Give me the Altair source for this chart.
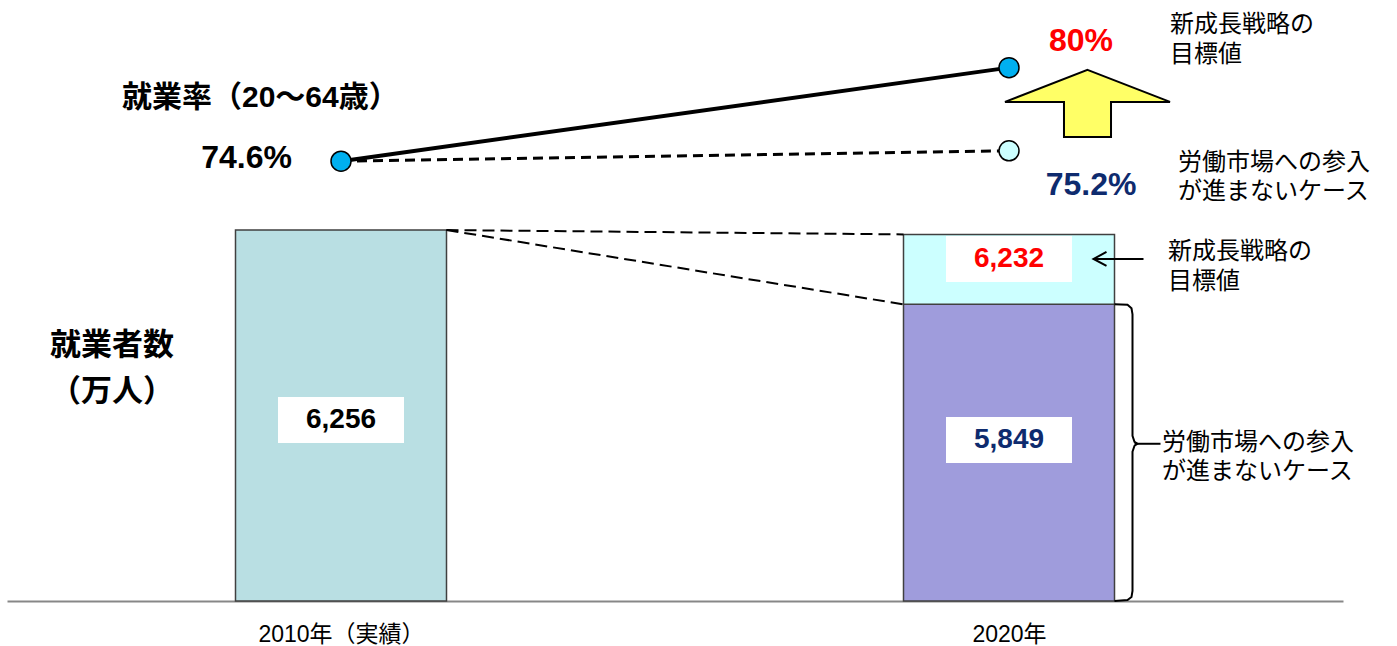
import altair as alt
import pandas as pd

# ---- values ----
YEARS = [2010, 2020]
YEAR_LABELS = ["2010年（実績）", "2020年"]

EMPLOYED_2010 = 6256           # 就業者数（万人）
EMPLOYED_2020_TARGET = 6232    # 新成長戦略の目標値
EMPLOYED_2020_STALLED = 5849   # 労働市場への参入が進まないケース

RATE_2010 = 74.6               # 就業率（20～64歳）, %
RATE_2020_TARGET = 80.0
RATE_2020_STALLED = 75.2

RATE_TITLE = ["就業率（20～64歳）"]
COUNT_TITLE = ["就業者数", "（万人）"]
TARGET_NOTE = ["新成長戦略の", "目標値"]
STALLED_NOTE = ["労働市場への参入", "が進まないケース"]

# ---- layout ----
PLOT_W, PLOT_H = 1336, 591
X_DOMAIN = [2005, 2025]
BAR_DOMAIN = [4224, 7461.3]      # employment bars sit on a truncated axis
RATE_DOMAIN = [49.205, 83.328]
BAR_PX = 211

FONT = "Liberation Sans, Noto Sans CJK JP"
NAVY = "#0E2B6E"
RED = "#FF0000"

px_x = PLOT_W / (X_DOMAIN[1] - X_DOMAIN[0])
px_bar = PLOT_H / (BAR_DOMAIN[1] - BAR_DOMAIN[0])
half = BAR_PX / 2 / px_x

XS = alt.Scale(domain=X_DOMAIN, nice=False, zero=False, padding=0)
YB = alt.Scale(domain=BAR_DOMAIN, nice=False, zero=False, padding=0)
YR = alt.Scale(domain=RATE_DOMAIN, nice=False, zero=False, padding=0)

label_expr = "".join(
    f"datum.value == {y} ? '{t}' : " for y, t in zip(YEARS, YEAR_LABELS)
) + "''"
X_AXIS = alt.Axis(
    values=YEARS, labelExpr=label_expr, title=None, ticks=False, grid=False,
    domainColor="#878787", domainWidth=2, labelFont=FONT, labelFontSize=23,
    labelColor="black", labelPadding=22, labelFlush=False, labelOverlap=False,
)


def X(field):
    return alt.X(field, type="quantitative", scale=XS, axis=X_AXIS)


def Y(field, scale):
    return alt.Y(field, type="quantitative", scale=scale, axis=None)


def note(x, y, yscale, lines, dx, dy0, size, color="black", weight="normal",
         align="left", gap=29):
    out = []
    for i, line in enumerate(lines):
        df = pd.DataFrame({"x": [x], "y": [y], "t": [line]})
        out.append(
            alt.Chart(df).mark_text(
                font=FONT, fontSize=size, fontWeight=weight, color=color,
                align=align, baseline="middle", dx=dx, dy=dy0 + i * gap,
            ).encode(x=X("x"), y=Y("y", yscale), text="t:N")
        )
    return out


# ---- employed persons: bars ----
base = BAR_DOMAIN[0]
parts = ["actual", "stalled", "target"]
label_frac = {"actual": 0.488, "stalled": 0.543, "target": 0.649}
segments = pd.DataFrame({
    "year": [YEARS[0], YEARS[1], YEARS[1]],
    "lo": [base, base, EMPLOYED_2020_STALLED],
    "hi": [EMPLOYED_2010, EMPLOYED_2020_STALLED, EMPLOYED_2020_TARGET],
    "part": parts,
    "label": [f"{v:,}" for v in (EMPLOYED_2010, EMPLOYED_2020_STALLED, EMPLOYED_2020_TARGET)],
})
segments["label_y"] = [
    lo + label_frac[p] * (hi - lo)
    for lo, hi, p in zip(segments["lo"], segments["hi"], segments["part"])
]

bars = alt.Chart(segments).mark_bar(
    size=BAR_PX, stroke="#404040", strokeWidth=1.5
).encode(
    x=X("year"), y=Y("lo", YB), y2="hi",
    color=alt.Color("part:N", legend=None, scale=alt.Scale(
        domain=parts, range=["#B9DFE3", "#9F9CDC", "#CCFFFF"])),
)

BOX = "M-1,-0.365L1,-0.365L1,0.365L-1,0.365Z"
boxes = alt.Chart(segments).mark_point(
    shape=BOX, size=126 ** 2, filled=True, color="white", opacity=1, strokeWidth=0
).encode(x=X("year"), y=Y("label_y", YB))

values = alt.Chart(segments).mark_text(
    font=FONT, fontSize=28, fontWeight="bold", baseline="middle"
).encode(
    x=X("year"), y=Y("label_y", YB), text="label:N",
    color=alt.Color("part:N", legend=None, scale=alt.Scale(
        domain=parts, range=["black", NAVY, RED])),
)

# dashed guides from the 2010 bar top to the 2020 bar
guides = pd.DataFrame({
    "x": [YEARS[0] + half] * 2,
    "y": [EMPLOYED_2010] * 2,
    "x2": [YEARS[1] - half] * 2,
    "y2": [EMPLOYED_2020_TARGET, EMPLOYED_2020_STALLED],
})
guide_rules = alt.Chart(guides).mark_rule(
    color="black", strokeWidth=2, strokeDash=[12, 6]
).encode(x=X("x"), y=Y("y", YB), x2="x2", y2="y2")

# curly brace beside the stalled-case segment
edge = YEARS[1] + half
top_v, bot_v = EMPLOYED_2020_STALLED, base
tip_v = bot_v + 0.53 * (top_v - bot_v)
brace_px = [
    (0, top_v, 0), (13, top_v, -0.5), (17, top_v, -4), (18, top_v, -10),
    (18, tip_v, 8), (20, tip_v, 2), (23, tip_v, 0), (20, tip_v, -2),
    (18, tip_v, -8), (18, bot_v, 10), (17, bot_v, 4), (13, bot_v, 1),
    (0, bot_v, 0),
]
rows = []
for i, (dx, v, dy) in enumerate(brace_px):
    rows.append({"part": "brace", "i": i, "x": edge + dx / px_x, "y": v + dy / px_bar})
rows.append({"part": "tick", "i": 0, "x": edge + 20 / px_x, "y": tip_v})
rows.append({"part": "tick", "i": 1, "x": edge + 46 / px_x, "y": tip_v})

# left-pointing arrow toward the target segment label
arrow_v = segments.loc[segments["part"] == "target", "label_y"].iloc[0]
rows += [
    {"part": "shaft", "i": 0, "x": edge + 29 / px_x, "y": arrow_v},
    {"part": "shaft", "i": 1, "x": edge - 21 / px_x, "y": arrow_v},
    {"part": "head", "i": 0, "x": edge - 8 / px_x, "y": arrow_v + 7 / px_bar},
    {"part": "head", "i": 1, "x": edge - 21 / px_x, "y": arrow_v},
    {"part": "head", "i": 2, "x": edge - 8 / px_x, "y": arrow_v - 7 / px_bar},
]
strokes = alt.Chart(pd.DataFrame(rows)).mark_line(
    color="black", strokeWidth=2
).encode(x=X("x"), y=Y("y", YB), detail="part:N", order="i:Q")

# ---- employment rate ----
rate_lines = pd.DataFrame({
    "x": [YEARS[0], YEARS[0]], "y": [RATE_2010, RATE_2010],
    "x2": [YEARS[1], YEARS[1]], "y2": [RATE_2020_TARGET, RATE_2020_STALLED],
    "kind": ["target", "stalled"],
})
solid = alt.Chart(rate_lines[rate_lines["kind"] == "target"]).mark_rule(
    color="black", strokeWidth=4
).encode(x=X("x"), y=Y("y", YR), x2="x2", y2="y2")
dashed = alt.Chart(rate_lines[rate_lines["kind"] == "stalled"]).mark_rule(
    color="black", strokeWidth=3, strokeDash=[10, 6]
).encode(x=X("x"), y=Y("y", YR), x2="x2", y2="y2")

rates = pd.DataFrame({
    "year": [YEARS[0], YEARS[1], YEARS[1]],
    "rate": [RATE_2010, RATE_2020_TARGET, RATE_2020_STALLED],
    "kind": ["actual", "target", "stalled"],
})
dots = alt.Chart(rates).mark_circle(
    size=400, opacity=1, stroke="black", strokeWidth=1.5
).encode(
    x=X("year"), y=Y("rate", YR),
    color=alt.Color("kind:N", legend=None, scale=alt.Scale(
        domain=["actual", "target", "stalled"],
        range=["#00B0F0", "#00B0F0", "#CCFFFF"])),
)

# block arrow rising from the stalled case toward the target
ARROW = ("M0,-0.406L1,-0.018L0.285,-0.018L0.285,0.406"
         "L-0.285,0.406L-0.285,-0.018L-1,-0.018Z")
up = pd.DataFrame({
    "x": [YEARS[1] + 78.5 / px_x],
    "y": [RATE_2020_STALLED + 0.57 * (RATE_2020_TARGET - RATE_2020_STALLED)],
})
block_arrow = alt.Chart(up).mark_point(
    shape=ARROW, size=165 ** 2, filled=True, color="#FFFF66",
    stroke="black", strokeWidth=2, opacity=1,
).encode(x=X("x"), y=Y("y", YR))

texts = []
texts += note(YEARS[0], RATE_2010, YR, RATE_TITLE, -219, -63, 30, weight="bold")
texts += note(YEARS[0], RATE_2010, YR, [f"{RATE_2010:g}%"], -49, -3, 32,
              weight="bold", align="right")
texts += note(YEARS[1], RATE_2020_TARGET, YR, [f"{RATE_2020_TARGET:g}%"], 72, -27, 32,
              color=RED, weight="bold", align="center")
texts += note(YEARS[1], RATE_2020_STALLED, YR, [f"{RATE_2020_STALLED:g}%"], 82, 34, 32,
              color=NAVY, weight="bold", align="center")
texts += note(YEARS[1], RATE_2020_TARGET, YR, TARGET_NOTE, 161, -43, 24, gap=30)
texts += note(YEARS[1], RATE_2020_STALLED, YR, STALLED_NOTE, 169, 12, 24, gap=29)

label_2010 = segments.loc[segments["part"] == "actual", "label_y"].iloc[0]
texts += note(YEARS[0], label_2010, YB, COUNT_TITLE, -229, -74, 31,
              weight="bold", align="center", gap=46)
texts += note(YEARS[1], arrow_v, YB, TARGET_NOTE, 159, -7, 24, gap=30)
texts += note(YEARS[1], tip_v, YB, STALLED_NOTE, 153, -1, 24, gap=29)

chart = alt.layer(
    bars, guide_rules, boxes, values, strokes,
    solid, dashed, dots, block_arrow, *texts,
).resolve_scale(
    y="independent", color="independent"
).properties(
    width=PLOT_W, height=PLOT_H,
    autosize=alt.AutoSizeParams(type="none"),
    padding={"left": 7, "top": 10, "right": 47, "bottom": 45},
).configure_view(stroke=None)

chart.save("out.html", embed_options={"renderer": "svg", "actions": False})
